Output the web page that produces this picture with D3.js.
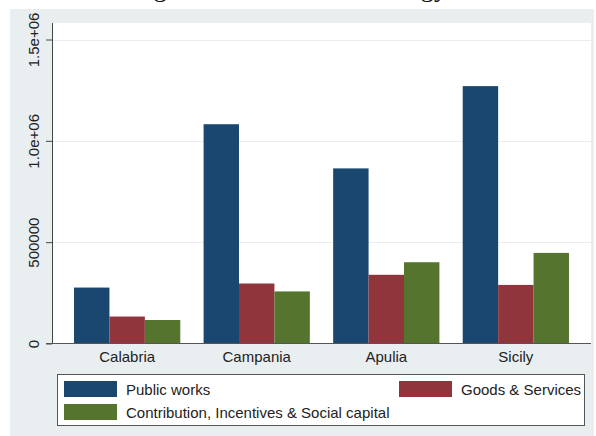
<!DOCTYPE html>
<html><head><meta charset="utf-8">
<script src="https://cdn.jsdelivr.net/npm/d3@7/dist/d3.min.js"></script>
<style>body{margin:0;background:#fff;}svg{display:block;}</style>
</head><body>
<svg id="c" width="596" height="436"></svg>
<script>
const categories = ["Calabria", "Campania", "Apulia", "Sicily"];
const seriesNames = ["Public works", "Goods & Services", "Contribution, Incentives & Social capital"];
const publicWorks = [276000, 1082000, 864000, 1270000];
const goodsServices = [133000, 296000, 339000, 289000];
const contributions = [116000, 257000, 401000, 447000];
const yTickValues = [0, 500000, 1000000, 1500000];
const yTickLabels = ["0", "500000", "1.0e+06", "1.5e+06"];
const seriesColors = ["#1a476f", "#90353b", "#55752f"];
const titleText = "Funding allocated to each strategy";

const series = [publicWorks, goodsServices, contributions];
const svg = d3.select("#c");
const font = "'Liberation Sans', Arial, sans-serif";

// clipped caption (only descenders visible, as in the reference)
svg.append("text").attr("x", 77).attr("y", -4)
  .attr("font-family", "'Liberation Serif', 'Times New Roman', serif")
  .attr("font-size", 27).attr("fill", "#111").text(titleText);

// graph region
svg.append("rect").attr("x", 10).attr("y", 9).attr("width", 584).attr("height", 427).attr("fill", "#e9eff1");

const plot = {left: 52, right: 591, top: 23, bottom: 343.5};
svg.append("rect").attr("x", plot.left).attr("y", plot.top)
  .attr("width", plot.right - plot.left).attr("height", plot.bottom - plot.top).attr("fill", "#fff");

const y = d3.scaleLinear().domain([0, 1500000]).range([plot.bottom, 39.5]);
const x0 = d3.scaleBand().domain(categories).range([plot.left, plot.right]).paddingInner(0.18).paddingOuter(0.17);
const x1 = d3.scaleBand().domain(d3.range(series.length)).range([0, x0.bandwidth()]);

// gridlines
svg.append("g").selectAll("line").data(yTickValues.filter(v => v > 0)).join("line")
  .attr("x1", plot.left).attr("x2", plot.right)
  .attr("y1", d => Math.round(y(d)) + 0.5).attr("y2", d => Math.round(y(d)) + 0.5)
  .attr("stroke", "#e8eef0").attr("stroke-width", 1);

// bars
const groups = svg.append("g").selectAll("g").data(categories).join("g")
  .attr("transform", d => `translate(${x0(d)},0)`);
groups.selectAll("rect").data((c, i) => series.map((s, k) => ({k, v: s[i]}))).join("rect")
  .attr("x", d => x1(d.k)).attr("width", x1.bandwidth())
  .attr("y", d => y(d.v)).attr("height", d => y(0) - y(d.v))
  .attr("fill", d => seriesColors[d.k]);

// y axis
const yAxis = d3.axisLeft(y).tickValues(yTickValues).tickFormat((d, i) => yTickLabels[i]).tickSize(6).tickPadding(4);
const gy = svg.append("g").attr("transform", `translate(${plot.left},0)`).call(yAxis);
gy.select(".domain").remove();
gy.selectAll(".tick line").attr("stroke", "#444");
gy.selectAll(".tick text").attr("font-family", font).attr("font-size", 15).attr("fill", "#222")
  .attr("text-anchor", "middle").attr("transform", "rotate(-90)")
  .attr("x", 0).attr("y", -13).attr("dy", 0);
svg.append("line").attr("x1", plot.left + 0.5).attr("x2", plot.left + 0.5).attr("y1", plot.top).attr("y2", plot.bottom)
  .attr("stroke", "#444");

// x axis
const xAxis = d3.axisBottom(x0).tickSize(0).tickPadding(8);
const gx = svg.append("g").attr("transform", `translate(0,${plot.bottom})`).call(xAxis);
gx.select(".domain").remove();
gx.selectAll(".tick text").attr("font-family", font).attr("font-size", 15).attr("fill", "#222").attr("dy", "0.71em");
svg.append("line").attr("x1", 46).attr("x2", plot.right).attr("y1", plot.bottom).attr("y2", plot.bottom)
  .attr("stroke", "#555");

// legend
const lg = svg.append("g");
lg.append("rect").attr("x", 57.5).attr("y", 374.5).attr("width", 527).attr("height", 51)
  .attr("fill", "#fff").attr("stroke", "#555");
const legendItems = [
  {k: 0, sx: 64, sy: 381, tx: 126, ty: 395},
  {k: 1, sx: 399, sy: 381, tx: 461, ty: 395},
  {k: 2, sx: 64, sy: 404, tx: 126, ty: 418}
];
lg.selectAll("rect.sw").data(legendItems).join("rect").attr("class", "sw")
  .attr("x", d => d.sx).attr("y", d => d.sy).attr("width", 53).attr("height", 16)
  .attr("fill", d => seriesColors[d.k]);
lg.selectAll("text").data(legendItems).join("text")
  .attr("x", d => d.tx).attr("y", d => d.ty)
  .attr("font-family", font).attr("font-size", 15).attr("fill", "#222")
  .text(d => seriesNames[d.k]);
</script>
</body></html>
